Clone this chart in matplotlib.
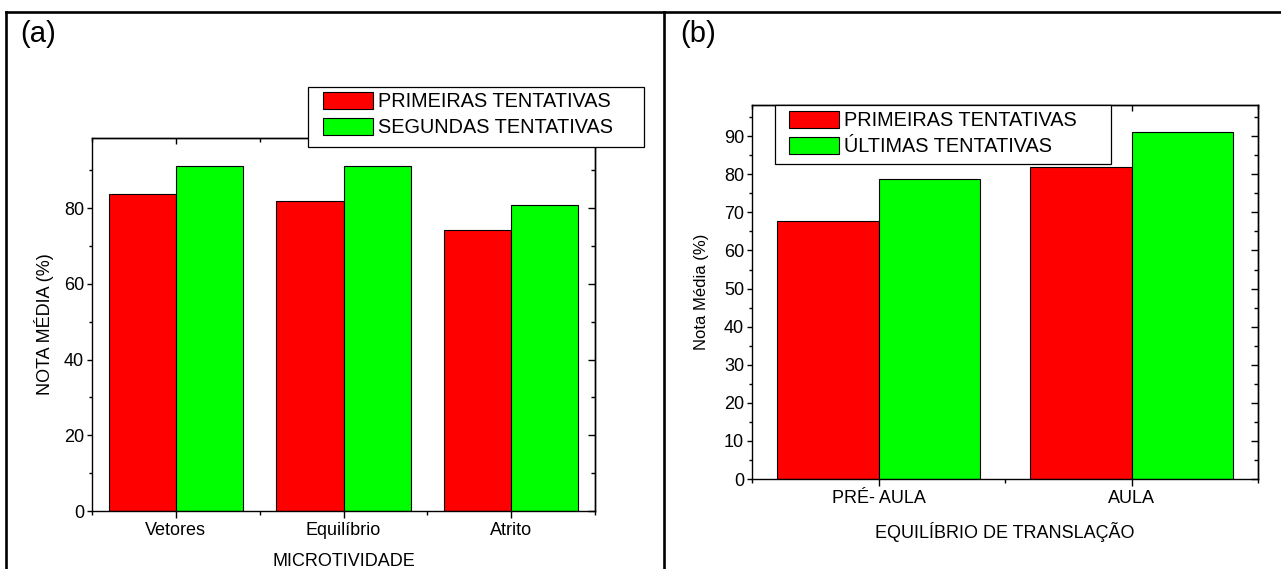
import numpy as np
import matplotlib.pyplot as plt
from matplotlib.lines import Line2D
from matplotlib.patches import Rectangle

plt.rcParams['font.family'] = ['Liberation Sans', 'DejaVu Sans']

# data, panel (a)
cat_a = ["Vetores", "Equilíbrio", "Atrito"]
first_a = [83.8, 81.9, 74.1]
second_a = [91.2, 91.0, 80.8]
# data, panel (b)
cat_b = ["PRÉ- AULA", "AULA"]
first_b = [67.8, 81.8]
last_b = [78.7, 91.0]

W, H = 1281, 569
fig = plt.figure(figsize=(W / 100, H / 100), dpi=100)

RED, GREEN = "#ff0000", "#00ff00"


def px(x0, y0, x1, y1):
    # pixel box -> figure fraction rect
    return [x0 / W, 1 - y1 / H, (x1 - x0) / W, (y1 - y0) / H]


def bar_panel(rect, cats, s1, s2, lab1, lab2, ymax, ymaj, ymin_step,
              xlabel, ylabel, ylab_size, frame_box, entry_xy):
    ax = fig.add_axes(rect)
    x = np.arange(1, len(cats) + 1)
    ax.bar(x - 0.2, s1, 0.4, color=RED, edgecolor="black", lw=0.8, label=lab1)
    ax.bar(x + 0.2, s2, 0.4, color=GREEN, edgecolor="black", lw=0.8, label=lab2)
    ax.set_xlim(0.5, len(cats) + 0.5)
    ax.set_ylim(0, ymax)
    ax.set_xticks(x)
    ax.set_xticklabels(cats)
    ax.set_xticks(np.arange(0.5, len(cats) + 1, 1.0), minor=True)
    yt = np.arange(0, ymax, ymaj)
    ax.set_yticks(yt)
    ax.set_yticks(np.arange(ymin_step, ymax, ymaj), minor=True)
    for s in ax.spines.values():
        s.set_linewidth(1.0)
    ax.tick_params(axis="x", which="major", direction="out", length=5, width=1, labelsize=13, pad=3)
    ax.tick_params(axis="x", which="minor", direction="out", length=3, width=1)
    ax.tick_params(axis="y", which="major", direction="out", length=3.6, width=1, labelsize=13, pad=2)
    ax.tick_params(axis="y", which="minor", direction="out", length=2.2, width=1)
    # mirrored ticks pointing inward
    top = ax.secondary_xaxis("top")
    top.set_xticks(x)
    top.set_xticks(np.arange(0.5, len(cats) + 1, 1.0), minor=True)
    top.tick_params(which="both", direction="in", labeltop=False)
    top.tick_params(which="major", length=4, width=1)
    top.tick_params(which="minor", length=3, width=1)
    top.spines["top"].set_linewidth(1.0)
    right = ax.secondary_yaxis("right")
    right.set_yticks(yt)
    right.set_yticks(np.arange(ymin_step, ymax, ymaj), minor=True)
    right.tick_params(which="both", direction="in", labelright=False)
    right.tick_params(which="major", length=5, width=1)
    right.tick_params(which="minor", length=3, width=1)
    right.spines["right"].set_linewidth(1.0)

    ax.set_xlabel(xlabel, fontsize=13)
    ax.set_ylabel(ylabel, fontsize=ylab_size)

    # legend: square frame drawn separately, entries on top
    fx0, fy0, fx1, fy1 = frame_box
    fig.add_artist(Rectangle((fx0 / W, 1 - fy1 / H), (fx1 - fx0) / W, (fy1 - fy0) / H,
                             transform=fig.transFigure, facecolor="white",
                             edgecolor="black", lw=0.9, zorder=4))
    h, l = ax.get_legend_handles_labels()
    fig.legend(h, l, loc="upper left", bbox_to_anchor=(entry_xy[0] / W, 1 - entry_xy[1] / H),
               bbox_transform=fig.transFigure, borderaxespad=0, borderpad=0,
               fontsize=14.3, frameon=False, handlelength=2.5, handleheight=0.95,
               handletextpad=0.25, labelspacing=0.33)
    return ax


ax_a = bar_panel(px(92, 138, 595, 511), cat_a, first_a, second_a,
                 "PRIMEIRAS TENTATIVAS", "SEGUNDAS TENTATIVAS",
                 98.5, 20, 10, "MICROTIVIDADE", "NOTA MÉDIA (%)", 13,
                 (308, 87, 644, 147), (323, 92))
ax_a.xaxis.set_label_coords(0.5, -0.112)
ax_a.yaxis.set_label_coords(-0.075, 0.5)

ax_b = bar_panel(px(752, 105, 1258, 479), cat_b, first_b, last_b,
                 "PRIMEIRAS TENTATIVAS", "ÚLTIMAS TENTATIVAS",
                 98.2, 10, 5, "EQUILÍBRIO DE TRANSLAÇÃO", "Nota Média (%)", 12,
                 (775, 105, 1111, 164), (789, 111))
ax_b.xaxis.set_label_coords(0.5, -0.115)
ax_b.yaxis.set_label_coords(-0.085, 0.5)

# panel frame lines
lw = 1.9
fig.add_artist(Line2D([6 / W, 1], [1 - 12 / H, 1 - 12 / H], transform=fig.transFigure, color="black", lw=lw))
fig.add_artist(Line2D([6 / W, 6 / W], [0, 1 - 12 / H], transform=fig.transFigure, color="black", lw=lw))
fig.add_artist(Line2D([664 / W, 664 / W], [0, 1 - 12 / H], transform=fig.transFigure, color="black", lw=lw))

fig.text(20 / W, 1 - 34 / H, "(a)", fontsize=21, va="center", ha="left")
fig.text(680 / W, 1 - 34 / H, "(b)", fontsize=21, va="center", ha="left")

fig.savefig("out.png", dpi=100)
